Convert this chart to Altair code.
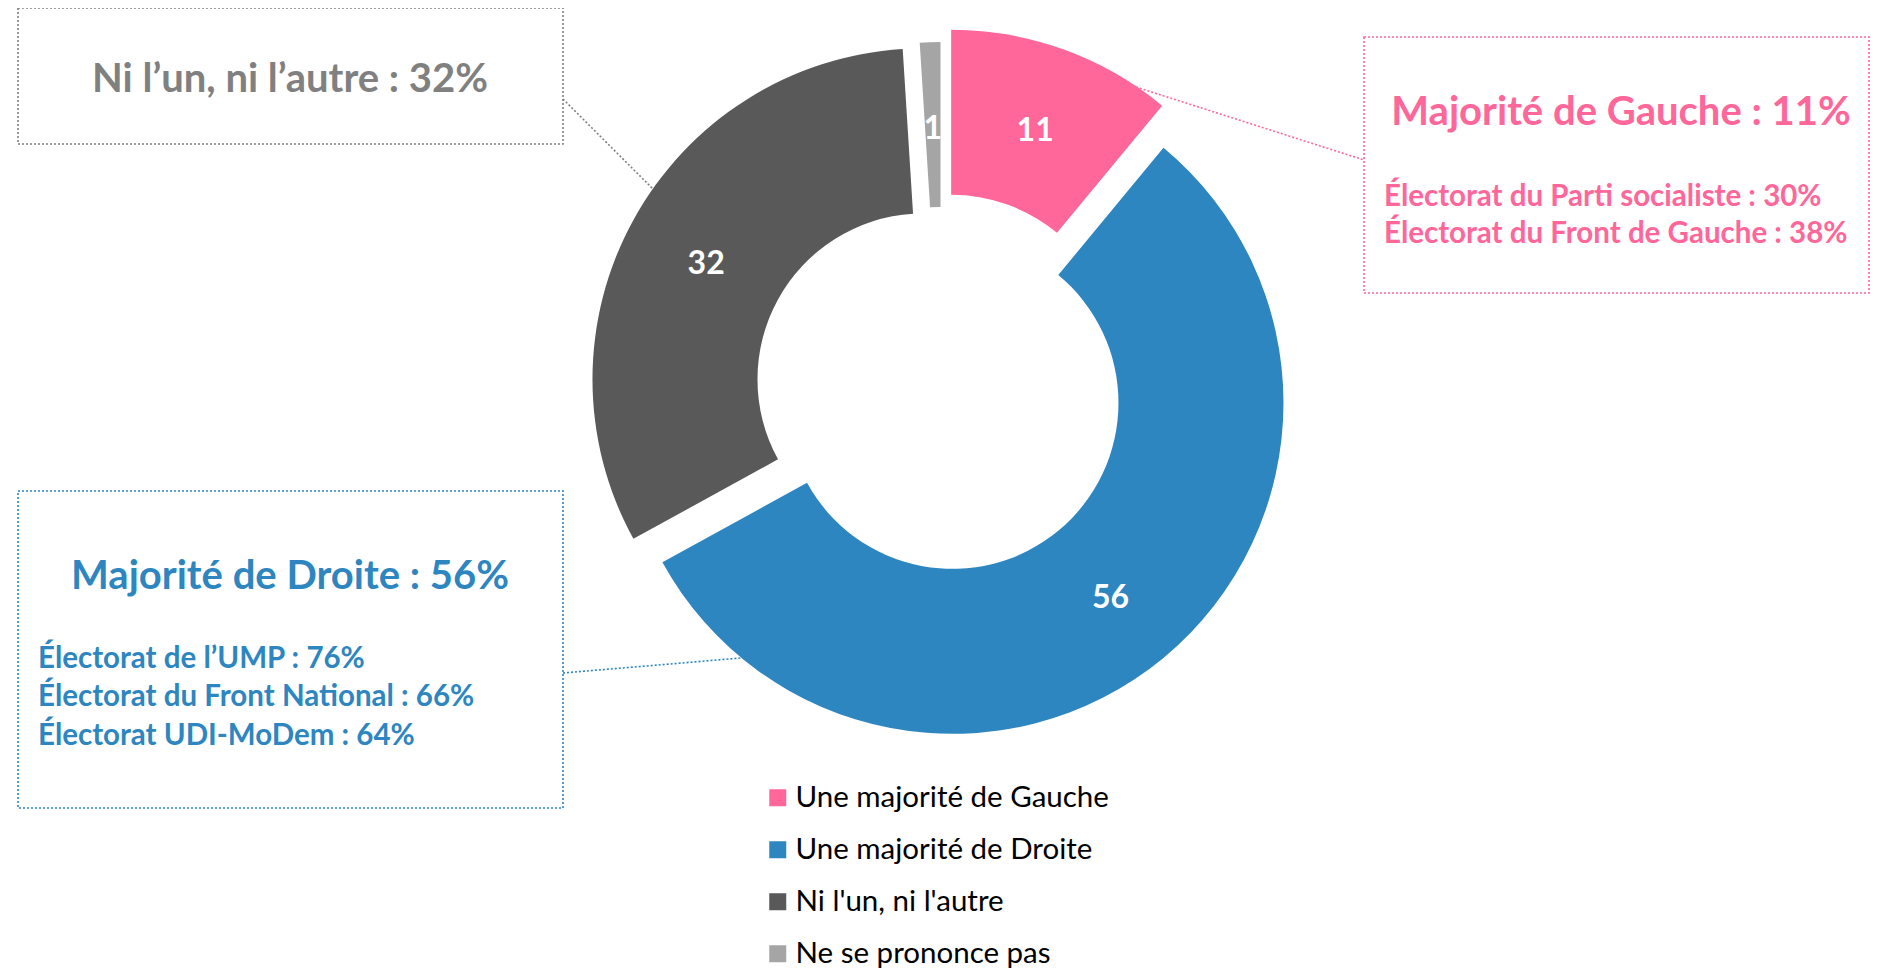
import math
import pandas as pd
import altair as alt

# ---- data ----
categories = ["Une majorité de Gauche", "Une majorité de Droite",
              "Ni l'un, ni l'autre", "Ne se prononce pas"]
values = [11, 56, 32, 1]

# ---- styles ----
colors = ["#FF6699", "#2E86C1", "#595959", "#A5A5A5"]
explode = [30, 18, 20, 16]          # per-slice explosion (px)
CX, CY = 933, 381                   # donut centre (px)
R_OUT, R_IN, R_LABEL = 331, 166, 248
FONT = "Lato"

df = pd.DataFrame({"category": categories, "value": values,
                   "order": list(range(len(values))), "explode": explode})

base = alt.Chart(df).transform_window(
    cum="sum(value)", sort=[alt.SortField("order", order="ascending")],
    frame=[None, 0]
).transform_calculate(
    t0="datum.cum - datum.value",
    t1="datum.cum",
    mid="(datum.cum - datum.value / 2) / 100 * 2 * PI",
).transform_calculate(
    cx=f"{CX} + datum.explode * sin(datum.mid)",
    cy=f"{CY} - datum.explode * cos(datum.mid)",
).transform_calculate(
    lx=f"datum.cx + {R_LABEL} * sin(datum.mid)",
    ly=f"datum.cy - {R_LABEL} * cos(datum.mid)",
)

arcs = base.mark_arc(radius=R_OUT, radius2=R_IN).encode(
    x=alt.X("cx:Q", scale=None, axis=None),
    y=alt.Y("cy:Q", scale=None, axis=None),
    theta=alt.Theta("t0:Q", scale=alt.Scale(domain=[0, 100], range=[0, 2 * math.pi]), stack=None),
    theta2="t1:Q",
    color=alt.Color("category:N", sort=categories,
                    scale=alt.Scale(domain=categories, range=colors),
                    legend=alt.Legend(orient="none", legendX=755, legendY=775,
                                      title=None, symbolType="square",
                                      symbolSize=289, symbolStrokeWidth=0,
                                      labelFont=FONT, labelFontSize=29.5,
                                      labelColor="#000000", labelOffset=3,
                                      rowPadding=21, padding=0,
                                      labelLimit=500)),
)

slice_labels = base.mark_text(font=FONT, fontWeight="bold", fontSize=32,
                              color="white", baseline="middle", dy=4).encode(
    x=alt.X("lx:Q", scale=None, axis=None),
    y=alt.Y("ly:Q", scale=None, axis=None),
    text=alt.Text("value:Q"),
)

# ---- annotation layout ----
boxes = pd.DataFrame({
    "x": [10, 1356, 10], "x2": [555, 1861, 555],
    "y": [0, 29, 483], "y2": [136, 285, 800],
    "c": ["#808080", "#FF6699", "#2E86C1"],
})
leaders = pd.DataFrame({
    "x": [555, 1128, 555], "y": [91, 79, 665],
    "x2": [660, 1356, 733], "y2": [196, 152, 650],
    "c": ["#808080", "#FF6699", "#2E86C1"],
})
titles = pd.DataFrame({
    "t": ["Ni l\u2019un, ni l\u2019autre : 32%", "Majorité de Gauche : 11%",
          "Majorité de Droite : 56%"],
    "x": [282, 1613, 282], "y": [84, 117, 581],
    "c": ["#808080", "#FF6699", "#2E86C1"],
})
lines = pd.DataFrame({
    "t": ["Électorat du Parti socialiste : 30%", "Électorat du Front de Gauche : 38%",
          "Électorat de l\u2019UMP : 76%", "Électorat du Front National : 66%",
          "Électorat UDI-MoDem : 64%"],
    "x": [1376, 1376, 30, 30, 30],
    "y": [198, 235, 660, 698, 737],
    "c": ["#FF6699", "#FF6699", "#2E86C1", "#2E86C1", "#2E86C1"],
})

box_layer = alt.Chart(boxes).mark_rect(filled=False, strokeWidth=1.6,
                                       strokeDash=[2, 2]).encode(
    x=alt.X("x:Q", scale=None, axis=None), x2="x2:Q",
    y=alt.Y("y:Q", scale=None, axis=None), y2="y2:Q",
    stroke=alt.Stroke("c:N", scale=None),
)
leader_layer = alt.Chart(leaders).mark_rule(strokeWidth=1.6, strokeDash=[2, 2]).encode(
    x=alt.X("x:Q", scale=None, axis=None), x2="x2:Q",
    y=alt.Y("y:Q", scale=None, axis=None), y2="y2:Q",
    color=alt.Color("c:N", scale=None),
)
title_layer = alt.Chart(titles).mark_text(font=FONT, fontWeight="bold", fontSize=40,
                                          align="center", baseline="alphabetic").encode(
    x=alt.X("x:Q", scale=None, axis=None), y=alt.Y("y:Q", scale=None, axis=None),
    text="t:N", color=alt.Color("c:N", scale=None),
)
line_layer = alt.Chart(lines).mark_text(font=FONT, fontWeight="bold", fontSize=29.5,
                                        align="left", baseline="alphabetic").encode(
    x=alt.X("x:Q", scale=None, axis=None), y=alt.Y("y:Q", scale=None, axis=None),
    text="t:N", color=alt.Color("c:N", scale=None),
)

chart = alt.layer(leader_layer, box_layer, arcs, slice_labels, title_layer, line_layer).resolve_scale(
    color="independent"
).properties(
    width=1862, height=961, padding=0, autosize=alt.AutoSizeParams(type="none"),
    background="white",
).configure_view(stroke=None)

chart.save("out.html", embed_options={"renderer": "svg", "actions": False})
